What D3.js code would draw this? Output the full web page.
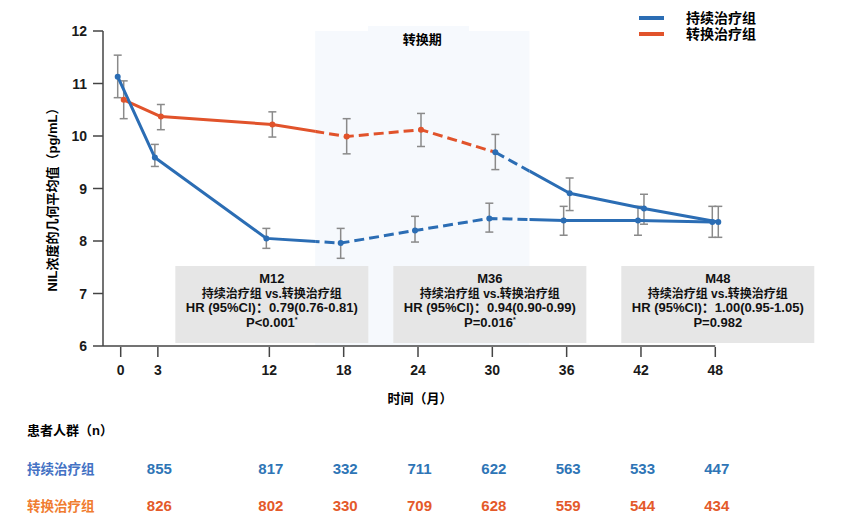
<!DOCTYPE html>
<html>
<head>
<meta charset="utf-8">
<script src="https://cdn.jsdelivr.net/npm/d3@7"></script>
<style>
  body { margin: 0; background: #fff; }
  text { font-family: "Liberation Sans", Arial, "Noto Sans CJK SC", sans-serif; font-weight: bold; }
  .cjk { font-family: "Liberation Sans", Arial, "Noto Sans CJK SC", sans-serif; }
</style>
</head>
<body>
<div id="chart"></div>
<script>
var width = 845;
var height = 526;

// data
var months = [0, 3, 12, 18, 24, 30, 36, 42, 48];
var contMean = [11.13, 9.59, 8.05, 7.96, 8.20, 8.43, 8.39, 8.39, 8.36];
var contLo = [10.73, 9.42, 7.86, 7.67, 7.98, 8.17, 8.11, 8.11, 8.07];
var contHi = [11.54, 9.84, 8.24, 8.24, 8.47, 8.72, 8.66, 8.66, 8.66];
var switchMean = [10.69, 10.37, 10.22, 9.99, 10.12, 9.69, 8.91, 8.62, 8.36];
var switchLo = [10.33, 10.12, 9.98, 9.66, 9.80, 9.36, 8.58, 8.32, 8.07];
var switchHi = [11.05, 10.60, 10.46, 10.33, 10.43, 10.03, 9.20, 8.89, 8.66];
var switchPeriod = [15.7, 33];
var switchBlueFrom = 30; // switch group drawn in blue from this month on

var yTicks = [6, 7, 8, 9, 10, 11, 12];
var countMonths = [3, 12, 18, 24, 30, 36, 42, 48];
var contN = [855, 817, 332, 711, 622, 563, 533, 447];
var switchN = [826, 802, 330, 709, 628, 559, 544, 434];

var groupNames = ["持续治疗组", "转换治疗组"];
var boxes = [
  { month: 12.2, lines: ["M12", "持续治疗组 vs.转换治疗组", "HR (95%Cl)：0.79(0.76-0.81)", "P<0.001"], star: true },
  { month: 29.8, lines: ["M36", "持续治疗组 vs.转换治疗组", "HR (95%Cl)：0.94(0.90-0.99)", "P=0.016"], star: true },
  { month: 48.2, lines: ["M48", "持续治疗组 vs.转换治疗组", "HR (95%Cl)：1.00(0.95-1.05)", "P=0.982"], star: false }
];

var blue = "#2b6db4";
var orange = "#e1532b";
var grey = "#8a8a8a";

var svg = d3.select("#chart").append("svg").attr("width", width).attr("height", height);

var x = d3.scaleLinear().domain([0, 48]).range([120.7, 715.3]);
var y = d3.scaleLinear().domain([6, 12]).range([346, 31]);
var axisX = 103;

// switch period shading
svg.append("rect")
    .attr("x", x(switchPeriod[0])).attr("y", y(12))
    .attr("width", x(switchPeriod[1]) - x(switchPeriod[0]))
    .attr("height", y(6) - y(12))
    .attr("fill", "#f6f9fd");
svg.append("rect")
    .attr("x", 368).attr("y", 26).attr("width", 101).attr("height", 10)
    .attr("fill", "#f6f9fd");
svg.append("text")
    .attr("class", "cjk")
    .attr("x", (x(switchPeriod[0]) + x(switchPeriod[1])) / 2)
    .attr("y", 44)
    .attr("text-anchor", "middle")
    .style("font-size", "13px")
    .text("转换期");

// annotation boxes
var boxW = 193, boxTop = 266, boxH = 77;
boxes.forEach(function (b) {
    var cx = x(b.month);
    svg.append("rect")
        .attr("x", cx - boxW / 2).attr("y", boxTop)
        .attr("width", boxW).attr("height", boxH)
        .attr("fill", "#e6e6e6");
    b.lines.forEach(function (line, i) {
        var t = svg.append("text")
            .attr("x", cx).attr("y", boxTop + 17 + i * 14.5)
            .attr("text-anchor", "middle")
            .style("font-size", i === 1 ? "12px" : "13px")
            .attr("fill", "#111")
            .text(line);
        if (i === 3 && b.star) {
            t.append("tspan").attr("dy", -5).style("font-size", "7px").text("*");
        }
    });
});

// axes
svg.append("line")
    .attr("x1", axisX).attr("x2", axisX).attr("y1", y(12)).attr("y2", y(6))
    .attr("stroke", "#444").attr("stroke-width", 1.5);
svg.append("line")
    .attr("x1", axisX).attr("x2", x(48)).attr("y1", y(6)).attr("y2", y(6))
    .attr("stroke", "#444").attr("stroke-width", 1.5);

var yAxis = svg.append("g");
yAxis.selectAll("line").data(yTicks).enter().append("line")
    .attr("x1", axisX - 10).attr("x2", axisX)
    .attr("y1", d => y(d)).attr("y2", d => y(d))
    .attr("stroke", "#444").attr("stroke-width", 1.5);
yAxis.selectAll("text").data(yTicks).enter().append("text")
    .attr("x", axisX - 16).attr("y", d => y(d) + 5)
    .attr("text-anchor", "end")
    .style("font-size", "14px")
    .attr("fill", "#1a1a1a")
    .text(d => d);

var xAxis = svg.append("g");
xAxis.selectAll("line").data(months).enter().append("line")
    .attr("x1", d => x(d)).attr("x2", d => x(d))
    .attr("y1", y(6) + 1).attr("y2", y(6) + 11)
    .attr("stroke", "#444").attr("stroke-width", 1.5);
xAxis.selectAll("text").data(months).enter().append("text")
    .attr("x", d => x(d)).attr("y", y(6) + 29)
    .attr("text-anchor", "middle")
    .style("font-size", "14px")
    .attr("fill", "#1a1a1a")
    .text(d => d);

svg.append("text")
    .attr("x", 420).attr("y", 403)
    .attr("text-anchor", "middle")
    .style("font-size", "13px")
    .text("时间（月）");

svg.append("text")
    .attr("transform", "translate(57," + ((y(6) + y(12)) / 2 + 8) + ") rotate(-90)")
    .attr("text-anchor", "middle")
    .style("font-size", "13px")
    .text("NIL浓度的几何平均值（pg/mL）");

// clip regions: solid outside the switch period, dashed inside
var defs = svg.append("defs");
var clipOut = defs.append("clipPath").attr("id", "clipOut");
clipOut.append("rect").attr("x", 0).attr("y", 0).attr("width", x(switchPeriod[0])).attr("height", height);
clipOut.append("rect").attr("x", x(switchPeriod[1])).attr("y", 0).attr("width", width).attr("height", height);
defs.append("clipPath").attr("id", "clipIn").append("rect")
    .attr("x", x(switchPeriod[0])).attr("y", 0)
    .attr("width", x(switchPeriod[1]) - x(switchPeriod[0])).attr("height", height);

function makeSeries(mean, lo, hi, dx) {
    return months.map(function (m, i) {
        return { month: m, mean: mean[i], lo: lo[i], hi: hi[i], dx: dx };
    });
}
var contData = makeSeries(contMean, contLo, contHi, -3);
var switchData = makeSeries(switchMean, switchLo, switchHi, 3);

var line = d3.line().x(d => x(d.month) + d.dx).y(d => y(d.mean));

function drawLine(data, color) {
    svg.append("path").datum(data)
        .attr("d", line).attr("fill", "none")
        .attr("stroke", color).attr("stroke-width", 3)
        .attr("stroke-linejoin", "round")
        .attr("clip-path", "url(#clipOut)");
    svg.append("path").datum(data)
        .attr("d", line).attr("fill", "none")
        .attr("stroke", color).attr("stroke-width", 3)
        .attr("stroke-dasharray", "10,5")
        .attr("clip-path", "url(#clipIn)");
}

function drawErrors(data) {
    var g = svg.append("g").attr("stroke", grey).attr("stroke-width", 1.5);
    g.selectAll(".v").data(data).enter().append("line")
        .attr("x1", d => x(d.month) + d.dx).attr("x2", d => x(d.month) + d.dx)
        .attr("y1", d => y(d.lo)).attr("y2", d => y(d.hi));
    g.selectAll(".t").data(data).enter().append("line")
        .attr("x1", d => x(d.month) + d.dx - 4).attr("x2", d => x(d.month) + d.dx + 4)
        .attr("y1", d => y(d.hi)).attr("y2", d => y(d.hi));
    g.selectAll(".b").data(data).enter().append("line")
        .attr("x1", d => x(d.month) + d.dx - 4).attr("x2", d => x(d.month) + d.dx + 4)
        .attr("y1", d => y(d.lo)).attr("y2", d => y(d.lo));
}

drawErrors(contData);
drawErrors(switchData);

drawLine(switchData.filter(d => d.month <= switchBlueFrom), orange);
drawLine(switchData.filter(d => d.month >= switchBlueFrom), blue);
drawLine(contData, blue);

svg.append("g").selectAll("circle").data(contData).enter().append("circle")
    .attr("cx", d => x(d.month) + d.dx).attr("cy", d => y(d.mean)).attr("r", 3)
    .attr("fill", blue);
svg.append("g").selectAll("circle").data(switchData).enter().append("circle")
    .attr("cx", d => x(d.month) + d.dx).attr("cy", d => y(d.mean)).attr("r", 3)
    .attr("fill", d => d.month >= switchBlueFrom ? blue : orange);

// legend
var legend = svg.append("g");
[blue, orange].forEach(function (c, i) {
    legend.append("line")
        .attr("x1", 639).attr("x2", 664)
        .attr("y1", 18 + i * 16).attr("y2", 18 + i * 16)
        .attr("stroke", c).attr("stroke-width", 4);
    legend.append("text")
        .attr("x", 686).attr("y", 23 + i * 16)
        .style("font-size", "14px")
        .text(groupNames[i]);
});

// patient counts
svg.append("text")
    .attr("x", 27).attr("y", 435)
    .style("font-size", "13px")
    .text("患者人群（n）");

var rows = [
    { name: groupNames[0], n: contN, label: "#4472c4", num: "#2e75b6", y: 474 },
    { name: groupNames[1], n: switchN, label: "#f07c30", num: "#e45a2a", y: 511 }
];
rows.forEach(function (r) {
    svg.append("text")
        .attr("x", 27).attr("y", r.y)
        .style("font-size", "13.5px")
        .attr("fill", r.label)
        .text(r.name);
    svg.append("g").selectAll("text").data(countMonths).enter().append("text")
        .attr("x", d => x(d) + 1.5).attr("y", r.y)
        .attr("text-anchor", "middle")
        .style("font-size", "15px")
        .attr("fill", r.num)
        .text((d, i) => r.n[i]);
});
</script>
</body>
</html>
